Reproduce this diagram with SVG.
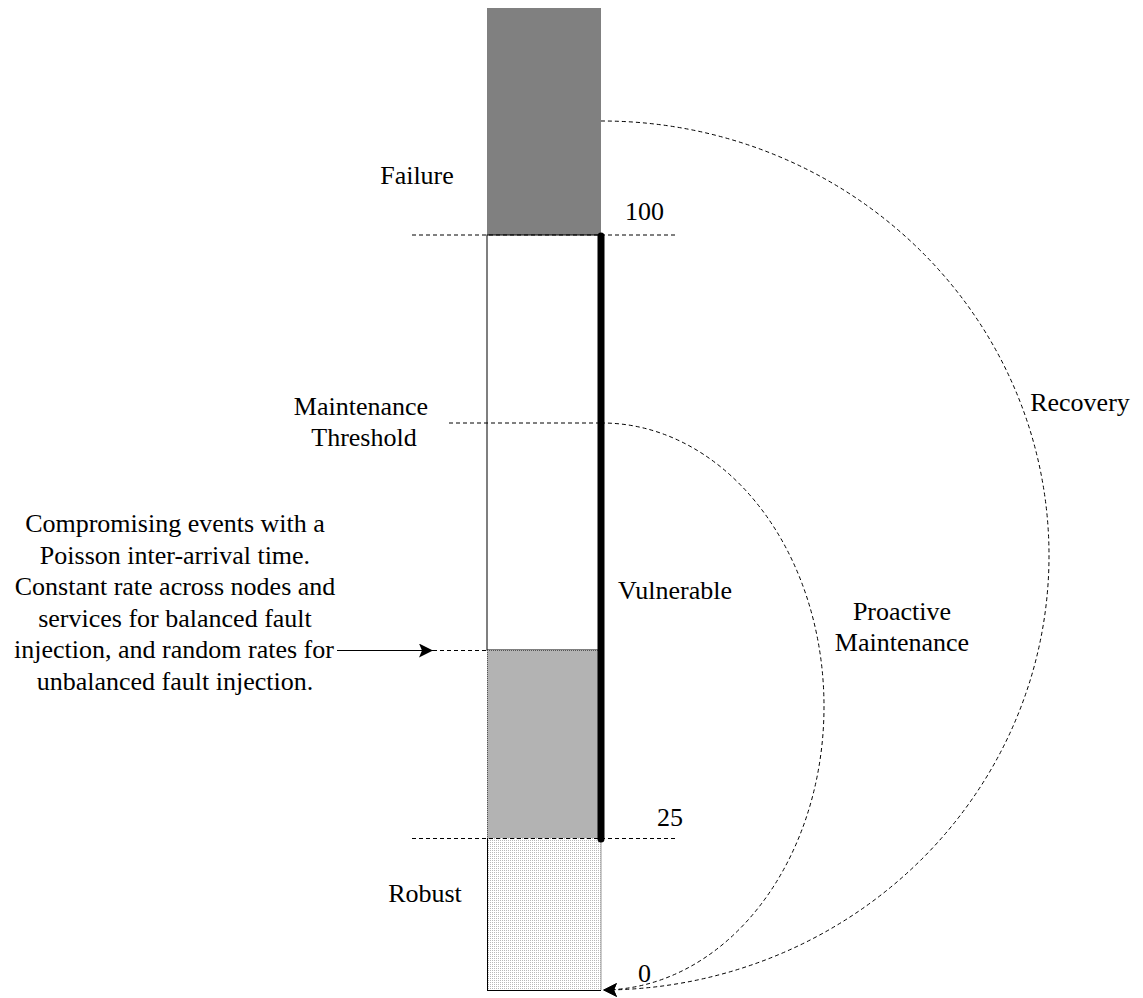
<svg xmlns="http://www.w3.org/2000/svg" width="1143" height="998" viewBox="0 0 1143 998">
  <style>
    text { font-family: "Liberation Serif", "Times New Roman", serif; font-size: 26px; fill: #000; }
    .dash { fill: none; stroke: #000; stroke-width: 1; stroke-dasharray: 4 3; }
    .dot { fill: none; stroke: #555; stroke-width: 1; stroke-dasharray: 1 1; }
    .solid { fill: none; stroke: #000; stroke-width: 1; }
  </style>
  <defs>
    <pattern id="dots" width="2" height="2" patternUnits="userSpaceOnUse">
      <rect width="2" height="2" fill="#fff"/>
      <rect width="1" height="1" fill="#b8b8b8"/>
    </pattern>
    <marker id="arrow" viewBox="0 0 14 14" refX="14" refY="7" markerWidth="14" markerHeight="14" markerUnits="userSpaceOnUse" orient="auto">
      <path d="M0,0 L14,7 L0,14 L3,7 Z" fill="#000"/>
    </marker>
  </defs>

  <!-- level bar -->
  <g id="bar">
    <rect id="failure-zone" x="487" y="8" width="114" height="227" fill="#808080"/>
    <rect id="upper-zone" x="487" y="235" width="114" height="415" fill="#fff" stroke="#000" stroke-width="1"/>
    <rect id="compromised-zone" x="487" y="650" width="114" height="188" fill="#b3b3b3"/>
    <line class="dot" x1="487" y1="650.5" x2="601" y2="650.5"/>
    <line class="dot" x1="487.5" y1="650" x2="487.5" y2="838"/>
    <rect id="robust-zone" x="487" y="838" width="114" height="152" fill="url(#dots)"/>
    <line class="solid" x1="487.5" y1="838" x2="487.5" y2="990"/>
    <line class="solid" x1="487" y1="990.5" x2="601" y2="990.5"/>
    <line x1="601" y1="838" x2="601" y2="990" stroke="#999" stroke-width="1"/>
  </g>

  <!-- connectors and level markers -->
  <g id="connectors">
    <line class="dash" x1="412" y1="235" x2="677" y2="235"/>
    <line class="dash" x1="412" y1="838.5" x2="677" y2="838.5"/>
    <line class="dash" x1="449" y1="423" x2="601" y2="423"/>
    <line class="dash" x1="433" y1="650.5" x2="487" y2="650.5"/>
    <line class="solid" x1="337" y1="650.5" x2="433" y2="650.5" marker-end="url(#arrow)"/>
    <line id="vulnerable-span" x1="601" y1="236" x2="601" y2="839" stroke="#000" stroke-width="7" stroke-linecap="round"/>
    <path id="recovery" class="dash" d="M601,121 A447,434.5 0 0 1 603,990" marker-end="url(#arrow)"/>
    <path id="proactive" class="dash" d="M601,423 A222,283.5 0 0 1 603,990" marker-end="url(#arrow)"/>
  </g>

  <!-- labels -->
  <g id="label-failure"><text x="417" y="184" text-anchor="middle">Failure</text></g>
  <g id="label-100"><text x="625" y="220">100</text></g>
  <g id="label-threshold">
    <text x="361" y="415" text-anchor="middle">Maintenance</text>
    <text x="364" y="446" text-anchor="middle">Threshold</text>
  </g>
  <g id="label-events">
    <text x="175" y="532" text-anchor="middle">Compromising events with a</text>
    <text x="175" y="563.5" text-anchor="middle">Poisson inter-arrival time.</text>
    <text x="175" y="595" text-anchor="middle">Constant rate across nodes and</text>
    <text x="175" y="626.5" text-anchor="middle">services for balanced fault</text>
    <text x="174" y="658" text-anchor="middle">injection, and random rates for</text>
    <text x="175" y="689.5" text-anchor="middle">unbalanced fault injection.</text>
  </g>
  <g id="label-vulnerable"><text x="675" y="599" text-anchor="middle">Vulnerable</text></g>
  <g id="label-proactive">
    <text x="902" y="620" text-anchor="middle">Proactive</text>
    <text x="902" y="651" text-anchor="middle">Maintenance</text>
  </g>
  <g id="label-recovery"><text x="1080" y="411" text-anchor="middle">Recovery</text></g>
  <g id="label-25"><text x="657" y="826">25</text></g>
  <g id="label-robust"><text x="425" y="902" text-anchor="middle">Robust</text></g>
  <g id="label-0"><text x="638" y="982">0</text></g>
</svg>
